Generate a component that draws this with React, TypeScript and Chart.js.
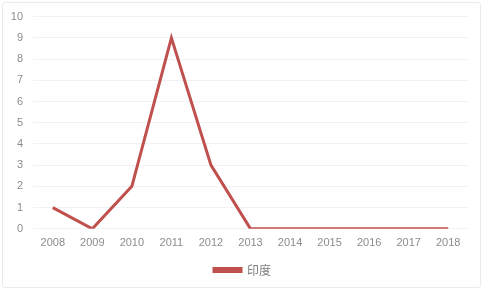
import React, { useEffect, useRef } from "react";
import { Chart, registerables } from "chart.js";

Chart.register(...registerables);

const categories = ["2008", "2009", "2010", "2011", "2012", "2013", "2014", "2015", "2016", "2017", "2018"];
const seriesName = "印度";
const values = [1, 0, 2, 9, 3, 0, 0, 0, 0, 0, 0];
const yMin = 0;
const yMax = 10;

const centerLegend = {
  id: "centerLegend",
  afterLayout(chart: any) {
    if (chart.legend) {
      chart.legend.left = 0;
      chart.legend.right = chart.width;
    }
  },
};

export default function App() {
  const ref = useRef<HTMLCanvasElement | null>(null);
  useEffect(() => {
    document.body.style.margin = "0";
    const chart = new Chart(ref.current!, {
      type: "line",
      data: {
        labels: categories,
        datasets: [
          {
            label: seriesName,
            data: values,
            borderColor: "#c0504d",
            backgroundColor: "#c0504d",
            borderWidth: 3,
            pointRadius: 0,
            tension: 0,
          },
        ],
      },
      plugins: [centerLegend],
      options: {
        animation: false,
        responsive: false,
        maintainAspectRatio: false,
        layout: { padding: { left: 0, right: 17, top: 10, bottom: 7 } },
        scales: {
          x: {
            offset: true,
            grid: { display: false, drawTicks: false },
            border: { display: false },
            ticks: { color: "#8c8c8c", font: { family: "Liberation Sans", size: 11 }, padding: 8, maxRotation: 0 },
          },
          y: {
            min: yMin,
            max: yMax,
            afterFit: (s: any) => { s.width = 33; },
            grid: { color: "#f2f2f2", drawTicks: false },
            border: { display: false },
            ticks: { stepSize: 1, color: "#8c8c8c", font: { family: "Liberation Sans", size: 11 }, padding: 10 },
          },
        },
        plugins: {
          legend: {
            position: "bottom",
            labels: {
              boxWidth: 27,
              boxHeight: 3,
              color: "#7f7f7f",
              font: { family: "Noto Sans CJK SC", size: 12 },
              padding: 6,
            },
          },
          tooltip: { enabled: false },
        },
      },
    });
    return () => chart.destroy();
  }, []);
  return (
    <div style={{ position: "relative", width: 485, height: 293 }}>
      <div
        style={{
          position: "absolute",
          left: 2,
          top: 2,
          width: 479,
          height: 286,
          border: "1px solid #ebebeb",
          borderRadius: 3,
          boxSizing: "border-box",
        }}
      />
      <canvas ref={ref} width={485} height={293} style={{ position: "absolute", left: 0, top: 0 }} />
    </div>
  );
}
